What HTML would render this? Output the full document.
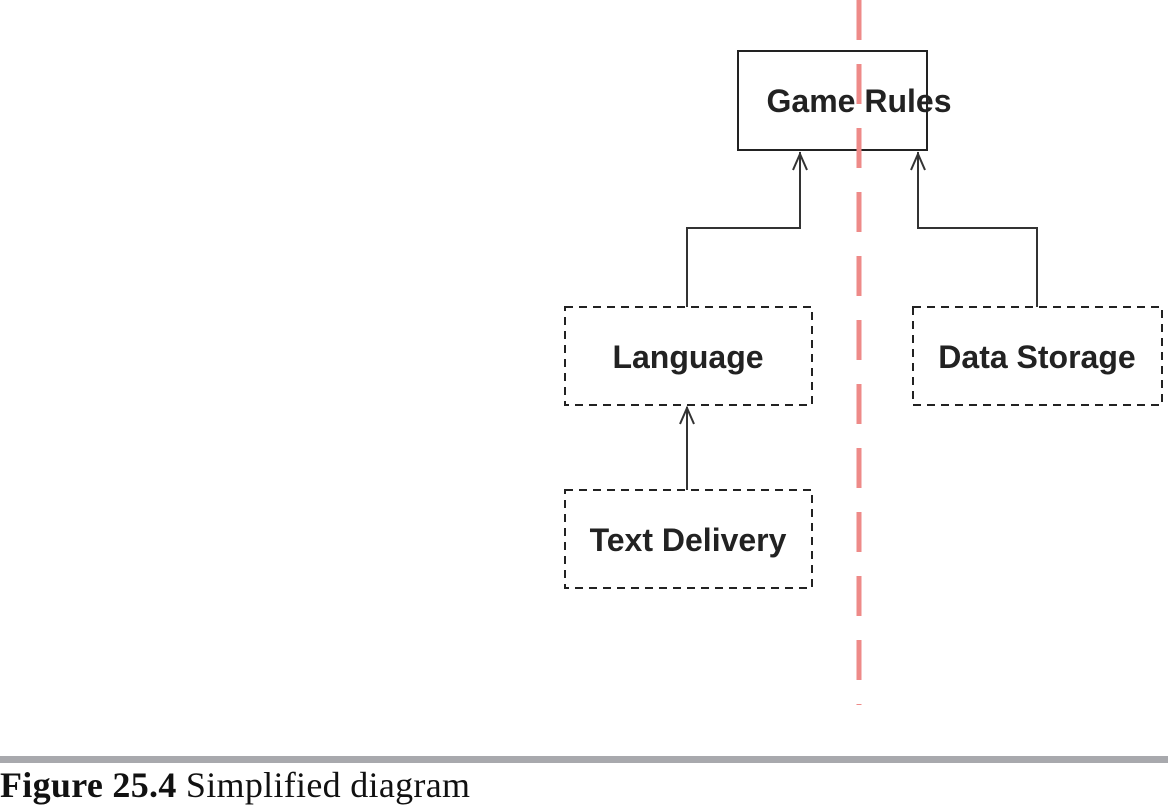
<!DOCTYPE html>
<html><head><style>
body{margin:0;width:1168px;height:808px;background:#fff;overflow:hidden;position:relative}
.cap{position:absolute;left:0;top:764px;font-family:"Liberation Serif",serif;font-size:36px;color:#111;white-space:nowrap;letter-spacing:0.3px}
</style></head><body>
<svg width="1168" height="808" style="position:absolute;left:0;top:0">
<g font-family="Liberation Sans, sans-serif" font-size="32" font-weight="bold" fill="#222" text-anchor="middle">
<rect x="738" y="51" width="189" height="99" fill="none" stroke="#222" stroke-width="2"/>
<rect x="565" y="307" width="247" height="98" fill="none" stroke="#222" stroke-width="2" stroke-dasharray="8,6"/>
<rect x="913" y="307" width="249" height="98" fill="none" stroke="#222" stroke-width="2" stroke-dasharray="8,6"/>
<rect x="565" y="490" width="247" height="98" fill="none" stroke="#222" stroke-width="2" stroke-dasharray="8,6"/>
<text x="859" y="112">Game Rules</text>
<text x="688" y="368">Language</text>
<text x="1037" y="368">Data Storage</text>
<text x="688" y="551">Text Delivery</text>
</g>
<g fill="none" stroke="#333" stroke-width="2">
<polyline points="687,307 687,228 800,228 800,152"/>
<polyline points="1037,307 1037,228 918,228 918,152"/>
<polyline points="687,490 687,407"/>
<polyline points="793,170 800,154 807,170"/>
<polyline points="911,170 918,154 925,170"/>
<polyline points="680,424 687,408 694,424"/>
</g>
<line x1="859" y1="0" x2="859" y2="705" stroke="#ee8a88" stroke-width="5" stroke-dasharray="40,24"/>
<rect x="0" y="756" width="1168" height="7" fill="#a8a9ad"/>
</svg>
<div class="cap"><b>Figure 25.4</b> Simplified diagram</div>
</body></html>
